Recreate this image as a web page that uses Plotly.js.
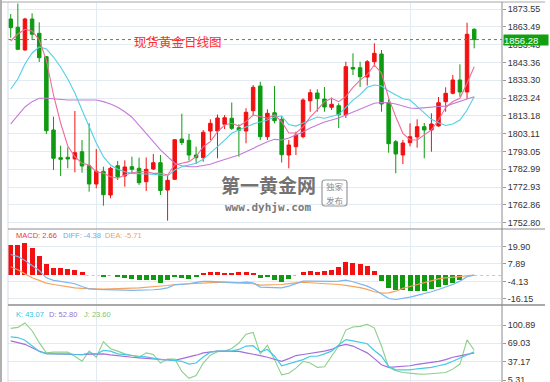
<!DOCTYPE html>
<html><head><meta charset="utf-8">
<script src="https://cdn.plot.ly/plotly-3.0.1.min.js"></script>
<style>html,body{margin:0;padding:0;background:#fff}#chart{width:550px;height:382px}</style>
</head><body><div id="chart"></div>
<script>
// ---- data ----
const idx = Array.from({length: 66}, (_, i) => i);
const open = [1867.90,1863.21,1850.39,1867.90,1859.82,1846.60,1805.19,1789.53,1789.76,1788.80,
 1792.92,1785.01,1774.68,1781.85,1768.46,1785.01,1779.20,1784.45,1783.55,1775.97,
 1783.15,1786.71,1771.29,1777.33,1800.10,1799.36,1791.06,1789.53,1804.62,1804.62,
 1808.40,1811.80,1806.48,1804.62,1816.09,1830.04,1801.40,1814.96,1811.23,1791.06,
 1795.75,1801.40,1821.68,1826.09,1822.70,1818.01,1818.91,1813.66,1840.50,1840.38,
 1835.13,1843.77,1848.13,1820.61,1798.57,1791.06,1798.01,1801.24,1807.05,1805.19,
 1807.45,1821.17,1825.92,1833.44,1826.66,1862.08];
const high = [1870.72,1876.66,1868.63,1871.12,1866.04,1847.00,1812.70,1796.31,1795.41,1815.92,
 1799.54,1808.97,1794.45,1784.45,1784.45,1787.67,1788.06,1790.10,1789.53,1789.65,
 1791.63,1791.06,1779.48,1799.93,1814.40,1802.93,1795.75,1805.19,1811.23,1813.94,
 1813.66,1820.72,1808.40,1817.45,1830.61,1832.47,1816.88,1830.04,1813.10,1799.54,
 1804.22,1823.09,1828.18,1828.18,1829.48,1823.55,1820.27,1843.77,1848.52,1843.77,
 1844.74,1854.17,1850.39,1822.53,1799.54,1799.54,1808.97,1811.23,1809.14,1814.62,
 1823.83,1829.31,1836.26,1842.30,1865.81,1862.65];
const low = [1857.34,1850.39,1849.99,1856.04,1843.61,1802.92,1782.59,1779.20,1783.55,1781.29,
 1781.06,1770.32,1772.25,1762.42,1766.60,1776.94,1773.15,1780.72,1774.11,1770.72,
 1782.59,1768.46,1753.94,1776.94,1796.71,1787.95,1785.97,1787.27,1799.54,1789.20,
 1805.75,1805.19,1790.10,1797.67,1813.10,1799.54,1799.54,1808.97,1786.82,1783.55,
 1791.06,1800.49,1815.52,1815.52,1815.52,1816.49,1806.32,1811.97,1836.26,1829.48,
 1830.33,1840.95,1815.52,1792.36,1780.72,1785.97,1795.97,1795.19,1789.20,1792.92,
 1807.05,1815.52,1825.35,1823.99,1822.70,1851.35];
const close = [1862.99,1850.78,1867.90,1859.26,1846.04,1804.78,1789.20,1788.63,1788.80,1792.36,
 1784.85,1774.68,1781.85,1768.63,1783.55,1778.80,1784.29,1782.98,1775.41,1782.98,
 1786.71,1771.00,1776.76,1799.70,1798.12,1791.06,1789.53,1803.89,1808.97,1811.97,
 1812.13,1806.12,1805.02,1815.19,1829.31,1801.40,1814.62,1810.44,1791.23,1796.71,
 1802.36,1822.14,1826.26,1822.87,1818.18,1819.71,1813.83,1840.95,1839.65,1835.30,
 1843.77,1848.52,1819.88,1797.44,1791.63,1797.84,1801.40,1807.05,1805.19,1808.58,
 1820.61,1825.92,1833.44,1826.66,1859.26,1856.28];
const ma5 = [1855.47,1859.40,1862.08,1861.12,1856.04,1844.70,1824.96,1809.14,1796.15,1790.10,
 1786.40,1785.40,1781.60,1780.70,1778.80,1777.90,1779.76,1781.06,1781.60,1781.60,
 1780.70,1780.70,1779.76,1785.40,1786.40,1787.30,1790.10,1795.75,1798.60,1804.20,
 1808.00,1808.97,1807.40,1809.90,1813.66,1812.70,1811.80,1813.66,1809.90,1803.50,
 1803.50,1806.90,1812.40,1816.50,1821.20,1823.10,1821.20,1824.00,1829.30,1833.40,
 1836.50,1841.90,1837.40,1823.30,1812.70,1803.30,1799.70,1799.50,1802.10,1805.20,
 1810.80,1817.90,1821.30,1823.10,1831.60,1840.95];
const ma10 = [1828.35,1834.00,1842.50,1848.70,1852.10,1850.95,1846.40,1840.80,1834.00,1826.10,
 1816.50,1806.90,1797.80,1790.10,1785.40,1782.98,1781.60,1780.70,1780.30,1780.30,
 1780.16,1779.76,1779.20,1782.60,1784.45,1785.40,1786.40,1788.60,1792.00,1795.75,
 1799.50,1803.30,1805.20,1807.05,1808.60,1809.70,1810.80,1812.50,1813.10,1808.30,
 1807.40,1809.14,1811.00,1812.50,1811.80,1812.70,1813.90,1818.00,1822.10,1825.20,
 1829.30,1830.60,1830.05,1827.20,1824.96,1822.80,1822.10,1818.35,1814.60,1811.20,
 1809.30,1807.70,1808.60,1810.80,1816.50,1824.00];
const ma30 = [1808.60,1813.66,1818.20,1821.20,1823.10,1823.10,1822.70,1822.50,1822.10,1822.10,
 1822.10,1822.10,1822.10,1821.20,1819.90,1818.00,1815.50,1812.40,1808.00,1803.30,
 1798.60,1793.90,1790.10,1786.40,1785.00,1784.45,1784.45,1785.00,1785.80,1787.30,
 1788.60,1790.10,1791.06,1792.90,1794.80,1796.70,1798.60,1799.90,1799.50,1800.70,
 1802.40,1804.10,1806.30,1808.00,1809.70,1810.80,1811.97,1813.66,1815.40,1817.05,
 1818.70,1820.30,1820.70,1820.60,1819.90,1818.70,1817.60,1817.40,1817.90,1818.00,
 1818.50,1818.70,1819.90,1821.20,1822.70,1824.00];
const macd = [20.6,21.1,22.2,19.0,13.7,7.6,5.3,5.0,4.6,3.9,
 2.3,0,0,-1.0,0,-1.0,-1.5,-2.6,-3.3,-3.3,
 -3.3,-4.9,-3.0,-1.1,-1.6,-2.2,-1.1,1.5,2.2,2.2,
 1.6,1.6,2.7,2.7,1.8,-1.6,-1.1,-3.2,-4.6,-2.7,
 0,2.5,3.0,2.5,3.0,4.1,5.7,9.2,8.7,8.0,
 6.4,3.0,-3.9,-8.5,-10.3,-10.3,-10.8,-10.8,-10.8,-9.6,
 -8.0,-6.6,-5.0,-3.4,0,0];
const diff = [14.4,13.0,10.3,6.9,3.4,-1.6,-3.4,-4.1,-5.0,-5.7,
 -7.6,-9.2,-9.6,-9.6,-9.8,-9.8,-10.1,-10.3,-10.3,-10.1,
 -9.8,-9.4,-8.5,-6.4,-6.2,-5.7,-4.8,-4.1,-4.1,-4.1,
 -4.6,-4.8,-5.0,-4.6,-5.0,-8.0,-8.0,-8.0,-8.5,-7.3,
 -5.7,-3.9,-3.9,-4.1,-4.3,-4.1,-3.9,-3.2,-4.3,-5.7,
 -7.3,-9.6,-13.0,-15.8,-16.5,-15.8,-14.9,-13.7,-12.6,-11.2,
 -9.6,-8.0,-6.2,-3.9,-0.8,0.2];
const dea = [6.0,3.9,1.1,-1.6,-3.4,-5.3,-6.2,-7.1,-8.0,-8.5,
 -8.9,-9.2,-9.4,-9.4,-9.2,-9.2,-8.9,-8.7,-8.5,-8.2,
 -8.0,-7.6,-6.9,-6.2,-5.9,-5.7,-5.5,-5.0,-4.8,-4.8,
 -4.8,-5.0,-5.3,-5.5,-5.7,-6.6,-6.6,-6.6,-6.2,-5.6,
 -5.0,-4.6,-5.0,-5.2,-5.5,-5.8,-6.2,-6.8,-7.3,-8.3,
 -9.6,-11.2,-12.1,-11.9,-10.8,-8.9,-7.6,-6.2,-4.6,-3.4,
 -2.3,-1.6,-1.1,-0.5,-0.1,0.2];
const kLine = [80.2,79.1,74.3,64.3,54.9,51.3,51.3,51.3,50.7,49.6,
 49.0,52.5,50.2,56.6,55.5,50.7,49.0,48.4,46.6,45.4,
 42.5,40.7,40.7,39.5,37.8,33.0,34.8,45.4,53.7,55.5,
 55.5,56.0,58.4,64.3,64.9,54.3,58.4,46.6,30.1,33.6,
 37.8,40.7,46.6,46.6,50.7,55.5,66.1,75.5,73.2,70.8,
 68.4,56.6,46.6,28.9,23.0,23.0,23.0,24.8,26.0,27.2,
 30.1,33.0,37.8,43.7,49.6,54.3];
const dLine = [73.2,70.8,67.3,61.4,55.5,51.3,50.7,50.2,49.6,49.6,
 49.6,50.2,50.7,50.7,49.0,47.2,46.0,44.8,43.7,43.1,
 41.3,40.7,40.1,39.5,42.5,44.8,48.4,52.5,54.3,55.5,
 55.5,55.5,54.9,52.5,50.7,47.8,44.8,41.9,37.8,42.5,
 47.8,49.6,51.3,52.5,55.5,58.4,64.3,67.3,64.3,58.4,
 52.5,42.5,31.9,27.2,27.8,28.9,30.1,32.5,34.2,36.0,
 37.8,40.7,44.8,47.2,49.6,52.5];
const jLine = [95.0,96.8,104.4,90.9,70.2,52.5,53.7,53.7,53.7,46.6,
 37.8,55.5,44.8,72.0,59.6,55.5,50.7,47.8,44.8,52.5,
 49.6,34.8,41.9,41.9,20.1,8.3,13.0,34.8,48.4,54.3,
 55.5,60.2,69.6,85.0,87.9,50.7,65.5,40.7,14.2,17.1,
 26.0,37.8,34.8,27.2,28.3,46.6,64.3,92.0,97.4,98.5,
 102.1,95.6,64.3,27.2,21.2,18.3,16.5,15.9,15.3,15.9,
 16.5,18.3,24.2,33.0,75.0,57.0];
const priceTicks = [1873.55,1863.49,1853.43,1843.36,1833.30,1823.24,1813.18,1803.11,1793.05,1782.99,1772.93,1762.86,1752.80];
const macdTicks = [19.90,7.89,-4.13,-16.15];
const kdjTicks = [100.89,69.03,37.17,5.31];
const monthLines = [12, 56];
const lastPrice = close[close.length - 1];

// ---- styling ----
const W = 550, H = 382;
const RED = '#f21010', GREEN = '#0f9a12';
const PX = x => x / W, PY = y => 1 - y / H;
const grid = '#e3ebf2';
const tickFont = {family: 'Liberation Sans, Arial, sans-serif', size: 9, color: '#333'};
const fmt = v => v.toFixed(2);

const traces = [
  {type: 'candlestick', x: idx, open, high, low, close, xaxis: 'x', yaxis: 'y',
   increasing: {line: {color: RED, width: 1}, fillcolor: RED},
   decreasing: {line: {color: GREEN, width: 1}, fillcolor: GREEN},
   whiskerwidth: 0, hoverinfo: 'skip', showlegend: false},
  {type: 'scatter', mode: 'lines', x: idx, y: ma30, yaxis: 'y', line: {color: '#c57ad8', width: 1.1}, hoverinfo: 'skip'},
  {type: 'scatter', mode: 'lines', x: idx, y: ma10, yaxis: 'y', line: {color: '#52cfe6', width: 1.1}, hoverinfo: 'skip'},
  {type: 'scatter', mode: 'lines', x: idx, y: ma5, yaxis: 'y', line: {color: '#f06c98', width: 1.1}, hoverinfo: 'skip'},
  // MACD
  {type: 'scatter', mode: 'lines', x: [10.5, 12.5], y: [0, 0], yaxis: 'y2', line: {color: '#c8c8c8', width: 1, dash: 'dot'}, hoverinfo: 'skip'},
  {type: 'scatter', mode: 'lines', x: [13.6, 14.4], y: [0, 0], yaxis: 'y2', line: {color: '#8fd08f', width: 1, dash: 'dot'}, hoverinfo: 'skip'},
  {type: 'scatter', mode: 'lines', x: [39.6, 40.4], y: [0, 0], yaxis: 'y2', line: {color: '#8fd08f', width: 1, dash: 'dot'}, hoverinfo: 'skip'},
  {type: 'scatter', mode: 'lines', x: [65, 68.9], y: [0, 0], yaxis: 'y2', line: {color: '#a8d0f2', width: 1, dash: 'dot'}, hoverinfo: 'skip'},
  {type: 'bar', x: idx, y: macd, yaxis: 'y2', width: 0.7,
   marker: {color: macd.map(v => v >= 0 ? RED : GREEN), line: {width: 0}}, hoverinfo: 'skip'},
  {type: 'scatter', mode: 'lines', x: idx, y: dea, yaxis: 'y2', line: {color: '#f5a35e', width: 1.2}, hoverinfo: 'skip'},
  {type: 'scatter', mode: 'lines', x: idx, y: diff, yaxis: 'y2', line: {color: '#7ab6f0', width: 1.2}, hoverinfo: 'skip'},
  // KDJ
  {type: 'scatter', mode: 'lines', x: idx, y: jLine, yaxis: 'y3', line: {color: '#8ccf8c', width: 1.1}, hoverinfo: 'skip'},
  {type: 'scatter', mode: 'lines', x: idx, y: dLine, yaxis: 'y3', line: {color: '#a56fd8', width: 1.2}, hoverinfo: 'skip'},
  {type: 'scatter', mode: 'lines', x: idx, y: kLine, yaxis: 'y3', line: {color: '#45c9e6', width: 1.2}, hoverinfo: 'skip'}
];

const yCommon = {side: 'right', anchor: 'x', ticks: 'outside', ticklen: 3, tickcolor: '#999',
  showgrid: true, gridcolor: grid, gridwidth: 1, zeroline: false, showline: false,
  tickfont: tickFont, fixedrange: true, ticklabeloverflow: 'allow'};

const line = (x0, y0, x1, y1, color, width) => ({type: 'line', xref: 'paper', yref: 'paper',
  x0: PX(x0), y0: PY(y0), x1: PX(x1), y1: PY(y1), line: {color, width}, layer: 'above'});

// rounded box for the watermark seal
const bx0 = 322, bx1 = 347, by0 = 180, by1 = 206, r = 3;
const sealPath = `M ${PX(bx0 + r)},${PY(by0)} L ${PX(bx1 - r)},${PY(by0)} Q ${PX(bx1)},${PY(by0)} ${PX(bx1)},${PY(by0 + r)} ` +
  `L ${PX(bx1)},${PY(by1 - r)} Q ${PX(bx1)},${PY(by1)} ${PX(bx1 - r)},${PY(by1)} L ${PX(bx0 + r)},${PY(by1)} ` +
  `Q ${PX(bx0)},${PY(by1)} ${PX(bx0)},${PY(by1 - r)} L ${PX(bx0)},${PY(by0 + r)} Q ${PX(bx0)},${PY(by0)} ${PX(bx0 + r)},${PY(by0)} Z`;

const ann = (text, x, y, font, opts = {}) => Object.assign({text, xref: 'paper', yref: 'paper', x: PX(x), y: PY(y),
  xanchor: 'left', yanchor: 'middle', showarrow: false, font, borderpad: 0}, opts);
const small = c => ({family: 'Liberation Sans, Arial, sans-serif', size: 7.5, color: c});

const layout = {
  width: W, height: H, margin: {l: 0, r: 0, t: 0, b: 0},
  paper_bgcolor: '#fff', plot_bgcolor: '#fff', showlegend: false, bargap: 0,
  xaxis: {domain: [PX(8), PX(502)], range: [-0.38, 68.9], anchor: 'y3',
    tickvals: monthLines, showticklabels: false, ticks: '', showgrid: true, gridcolor: grid,
    zeroline: false, showline: false, fixedrange: true, rangeslider: {visible: false}},
  yaxis: Object.assign({}, yCommon, {domain: [PY(228.5), PY(3)], range: [1749.53, 1876.94],
    tickvals: priceTicks, ticktext: priceTicks.map(fmt)}),
  yaxis2: Object.assign({}, yCommon, {domain: [PY(304.5), PY(229.5)], range: [-19.94, 31.58],
    tickvals: macdTicks, ticktext: macdTicks.map(fmt)}),
  yaxis3: Object.assign({}, yCommon, {domain: [0, PY(306)], range: [1.83, 133.91],
    tickvals: kdjTicks, ticktext: kdjTicks.map(fmt)}),
  shapes: [
    {type: 'line', xref: 'paper', yref: 'y', x0: PX(8), x1: PX(502), y0: lastPrice, y1: lastPrice,
     line: {color: '#2aa52a', width: 1, dash: 'dot'}, layer: 'above'},
    line(8, 2, 8, 382, '#d5dde5', 1),
    line(0, 2, 545, 2, '#a8a8a8', 1),
    line(1, 0, 1, 382, '#b0b0b0', 2),
    line(8, 229, 545, 229, '#8c8c8c', 1),
    line(8, 305, 545, 305, '#8c8c8c', 1.5),
    line(502, 2, 502, 382, '#8c8c8c', 1),
    {type: 'path', xref: 'paper', yref: 'paper', path: sealPath, line: {color: '#9a9a9a', width: 1.2}, layer: 'above'}
  ],
  annotations: [
    {text: fmt(lastPrice), xref: 'paper', yref: 'y', x: PX(502.5), y: lastPrice, xanchor: 'left', yanchor: 'middle',
     showarrow: false, bgcolor: '#12a012', width: 44, height: 10, align: 'left', borderpad: 0,
     font: {family: 'Liberation Sans, Arial, sans-serif', size: 9.5, color: '#fff'}},
    ann('现货黄金日线图', 177.5, 41.5, {family: 'Noto Sans CJK SC', size: 12.5, color: '#ff2d2d'}, {xanchor: 'center'}),
    ann('第一黄金网', 268, 199.3, {family: 'Noto Sans CJK SC', size: 19, color: '#737373', weight: 700}, {xanchor: 'center', yanchor: 'bottom'}),
    ann('www.dyhjw.com', 268, 199.8, {family: 'DejaVu Sans Mono', size: 11, color: '#7a7a7a', weight: 700}, {xanchor: 'center', yanchor: 'top'}),
    ann('独家', 334.5, 193, {family: 'Noto Sans CJK SC', size: 8.5, color: '#8a8a8a'}, {xanchor: 'center', yanchor: 'bottom'}),
    ann('发布', 334.5, 193.3, {family: 'Noto Sans CJK SC', size: 8.5, color: '#8a8a8a'}, {xanchor: 'center', yanchor: 'top'}),
    ann('MACD: 2.66', 15, 235, small('#e8383d')),
    ann('DIFF: -4.38', 62, 235, small('#6aaaf0')),
    ann('DEA: -5.71', 104, 235, small('#f2a05a')),
    ann('K: 43.07', 14.5, 314, small('#3cbfe0')),
    ann('D: 52.80', 48, 314, small('#9a70d0')),
    ann('J: 23.60', 83, 314, small('#78c878'))
  ]
};

Plotly.newPlot('chart', traces, layout, {staticPlot: true, displayModeBar: false});
</script>
</body></html>
